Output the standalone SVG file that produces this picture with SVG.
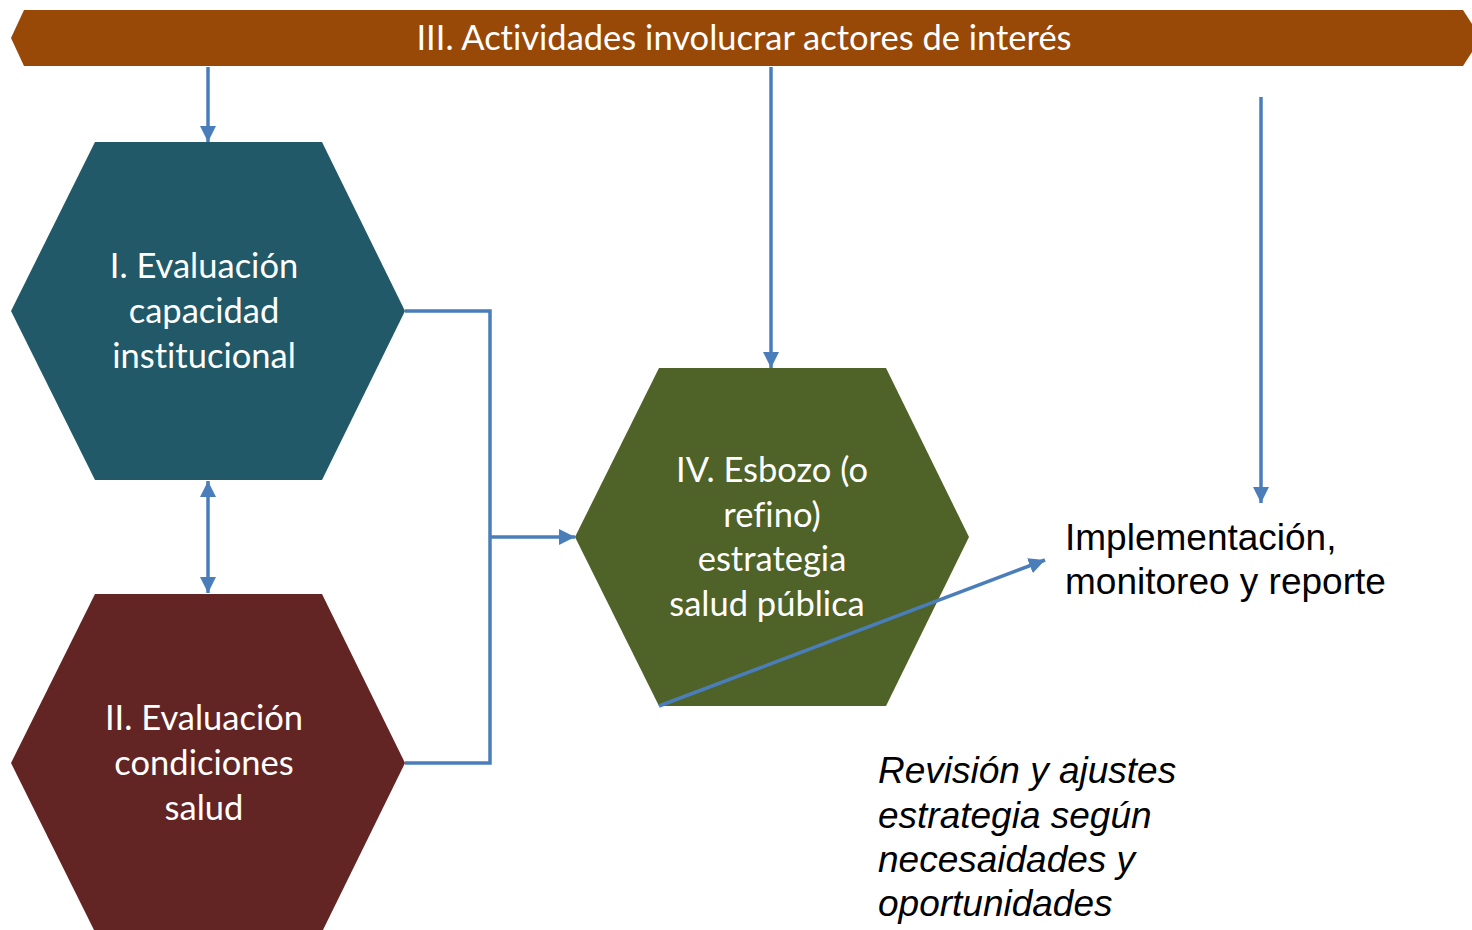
<svg xmlns="http://www.w3.org/2000/svg" width="1472" height="930" viewBox="0 0 1472 930">
<style>
.hex-text{font-family:Lato,"Open Sans",sans-serif;font-size:34.5px;fill:#ffffff;text-anchor:middle;font-variant-ligatures:none;font-feature-settings:"liga" 0}
.conn{fill:none;stroke:#4A7EBB;stroke-width:3.5}
.lbl{font-family:"Liberation Sans",Arial,sans-serif;font-size:37px;fill:#000000}
</style>
<defs>
<marker id="ah" viewBox="0 0 10 10" refX="10" refY="5" markerWidth="4.6" markerHeight="4.6" orient="auto" markerUnits="strokeWidth">
<path d="M0,0 L10,5 L0,10 z" fill="#4A7EBB"/>
</marker>
<marker id="ahs" viewBox="0 0 10 10" refX="0" refY="5" markerWidth="4.6" markerHeight="4.6" orient="auto" markerUnits="strokeWidth">
<path d="M10,0 L0,5 L10,10 z" fill="#4A7EBB"/>
</marker>
</defs>
<rect width="1472" height="930" fill="#ffffff"/>
<g id="banner">
<polygon points="11,38 24,10 1463,10 1472,24 1472,52 1463,66 24,66" fill="#984807"/>
<text x="744" y="50" class="hex-text">III. Actividades involucrar actores de interés</text>
</g>
<g id="node-I">
<polygon points="95,142 322,142 405,311 322,480 95,480 11,311" fill="#215968"/>
<text class="hex-text"><tspan x="204" y="278">I. Evaluación</tspan><tspan x="204" y="323">capacidad</tspan><tspan x="204" y="368">institucional</tspan></text>
</g>
<g id="node-II">
<polygon points="95,594 322,594 405,763 322,932 95,932 11,763" fill="#632523"/>
<text class="hex-text"><tspan x="204" y="730">II. Evaluación</tspan><tspan x="204" y="775">condiciones</tspan><tspan x="204" y="820">salud</tspan></text>
</g>
<g id="node-IV">
<polygon points="659,368 886,368 969,537 886,706 659,706 575,537" fill="#4F6228"/>
<text class="hex-text"><tspan x="772" y="482">IV. Esbozo (o</tspan><tspan x="772" y="527">refino)</tspan><tspan x="772" y="571">estrategia</tspan><tspan x="767" y="616">salud pública</tspan></text>
</g>
<g id="impl">
<text class="lbl"><tspan x="1065" y="550">Implementación,</tspan><tspan x="1065" y="594">monitoreo y reporte</tspan></text>
</g>
<g id="review">
<text class="lbl" font-style="italic"><tspan x="878" y="783">Revisión y ajustes</tspan><tspan x="878" y="828">estrategia según</tspan><tspan x="878" y="872">necesaidades y</tspan><tspan x="878" y="916">oportunidades</tspan></text>
</g>
<g id="connectors">
<line class="conn" x1="208" y1="67" x2="208" y2="142" marker-end="url(#ah)"/>
<line class="conn" x1="771" y1="67" x2="771" y2="368" marker-end="url(#ah)"/>
<line class="conn" x1="1261" y1="97" x2="1261" y2="503" marker-end="url(#ah)"/>
<line class="conn" x1="208" y1="481" x2="208" y2="593" marker-start="url(#ahs)" marker-end="url(#ah)"/>
<polyline class="conn" points="405,311 490,311 490,763 405,763"/>
<line class="conn" x1="490" y1="537" x2="575" y2="537" marker-end="url(#ah)"/>
<line class="conn" x1="659" y1="706" x2="1045" y2="560" marker-end="url(#ah)"/>
</g>
</svg>
